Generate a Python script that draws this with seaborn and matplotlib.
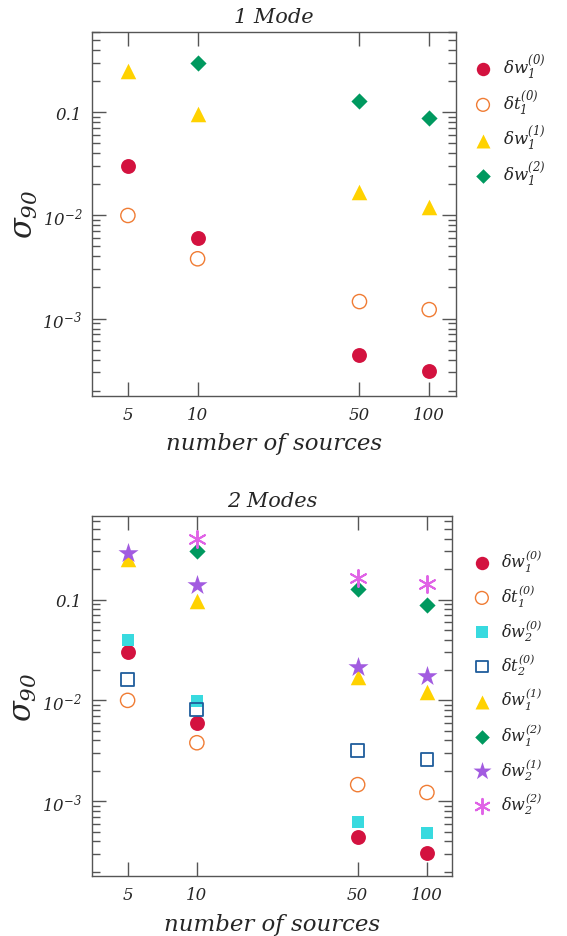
import numpy as np
import pandas as pd
import matplotlib
matplotlib.use("Agg")
import matplotlib.pyplot as plt
import matplotlib.ticker as mticker
import seaborn as sns

# ---------------- data ----------------
n_sources = [5, 10, 50, 100]
n_sources_no5 = [10, 50, 100]

dw1_0 = [0.0305, 0.0060, 4.4e-4, 3.1e-4]
dt1_0 = [0.0100, 0.0038, 1.46e-3, 1.22e-3]
dw1_1 = [0.255, 0.096, 0.0170, 0.0120]
dw1_2 = [0.305, 0.128, 0.089]          # at 10, 50, 100

dw2_0 = [0.040, 0.0098, 6.2e-4, 4.8e-4]
dt2_0 = [0.016, 0.0081, 3.2e-3, 2.6e-3]
dw2_1 = [0.29, 0.14, 0.0216, 0.0176]
dw2_2 = [0.394, 0.164, 0.143]          # at 10, 50, 100

xticks = [5, 10, 50, 100]
xtick_labels = ["5", "10", "50", "100"]
yticks = [1e-3, 1e-2, 1e-1]
ytick_labels = [r"$10^{-3}$", r"$10^{-2}$", "0.1"]

titles = ["1 Mode", "2 Modes"]
xlabel = "number of sources"
ylabel = r"$\sigma_{90}$"

# ---------------- style ----------------
sns.set_style("ticks")
plt.rcParams["font.family"] = ["DejaVu Serif"]
plt.rcParams["font.style"] = "italic"
plt.rcParams["mathtext.fontset"] = "custom"
plt.rcParams["mathtext.rm"] = "DejaVu Serif:italic"
plt.rcParams["mathtext.it"] = "DejaVu Serif:italic"
plt.rcParams["mathtext.default"] = "it"

RED = "#D3123F"
ORANGE = "#F07C34"
GOLD = "#FFD200"
GREEN = "#00995F"
CYAN = "#38DADF"
BLUE = "#1F5D9C"
PURPLE = "#A25BE0"
PINK = "#E062E6"

fig = plt.figure(figsize=(5.67, 9.37), dpi=100)
ax1 = fig.add_axes([0.1623, 0.5763, 0.642, 0.389])
ax2 = fig.add_axes([0.1617, 0.0637, 0.636, 0.385])


def filled(ax, x, y, marker, color, s, label):
    sns.scatterplot(x=x, y=y, ax=ax, marker=marker, s=s, color=color,
                    linewidth=0, label=label, zorder=3)


def hollow(ax, x, y, marker, color, s, label, lw=1.0):
    sns.scatterplot(x=x, y=y, ax=ax, marker=marker, s=s, facecolors="none",
                    edgecolor=color, linewidth=lw, label=label, zorder=3)


# top panel
filled(ax1, n_sources, dw1_0, "o", RED, 115, r"$\delta w_1^{(0)}$")
hollow(ax1, n_sources, dt1_0, "o", ORANGE, 105, r"$\delta t_1^{(0)}$")
filled(ax1, n_sources, dw1_1, "^", GOLD, 125, r"$\delta w_1^{(1)}$")
filled(ax1, n_sources_no5, dw1_2, "D", GREEN, 68, r"$\delta w_1^{(2)}$")

# bottom panel
filled(ax2, n_sources, dw1_0, "o", RED, 115, r"$\delta w_1^{(0)}$")
hollow(ax2, n_sources, dt1_0, "o", ORANGE, 105, r"$\delta t_1^{(0)}$")
filled(ax2, n_sources, dw2_0, "s", CYAN, 80, r"$\delta w_2^{(0)}$")
hollow(ax2, n_sources, dt2_0, "s", BLUE, 85, r"$\delta t_2^{(0)}$", lw=1.3)
filled(ax2, n_sources, dw1_1, "^", GOLD, 125, r"$\delta w_1^{(1)}$")
filled(ax2, n_sources_no5, dw1_2, "D", GREEN, 68, r"$\delta w_1^{(2)}$")
filled(ax2, n_sources, dw2_1, "*", PURPLE, 230, r"$\delta w_2^{(1)}$")
sns.scatterplot(x=n_sources_no5, y=dw2_2, ax=ax2, marker=(6, 2, 0), s=150,
                color=PINK, linewidth=1.4, edgecolor=PINK,
                label=r"$\delta w_2^{(2)}$", zorder=3)

limits = [((3.5, 130.6), (1.77e-4, 0.61)), ((3.49, 128.9), (1.8e-4, 0.68))]

for ax, title, (xl, yl) in zip([ax1, ax2], titles, limits):
    ax.set_xscale("log")
    ax.set_yscale("log")
    ax.set_xlim(*xl)
    ax.set_ylim(*yl)
    ax.xaxis.set_major_locator(mticker.FixedLocator(xticks))
    ax.xaxis.set_major_formatter(mticker.FixedFormatter(xtick_labels))
    ax.xaxis.set_minor_locator(mticker.NullLocator())
    ax.yaxis.set_major_locator(mticker.FixedLocator(yticks))
    ax.yaxis.set_major_formatter(mticker.FixedFormatter(ytick_labels))
    ax.yaxis.set_minor_locator(mticker.LogLocator(base=10, subs=np.arange(2, 10)))
    ax.yaxis.set_minor_formatter(mticker.NullFormatter())
    ax.tick_params(which="both", direction="in", top=True, right=True,
                   color="#555555", labelsize=12, pad=7)
    ax.tick_params(which="major", length=10, width=1.0)
    ax.tick_params(which="minor", length=6, width=1.0)
    for sp in ax.spines.values():
        sp.set_color("#555555")
        sp.set_linewidth(1.0)
    ax.set_title(title, fontsize=15, style="italic", pad=7)
    ax.set_xlabel(xlabel, fontsize=16.5, style="italic", labelpad=7)
    ax.set_ylabel(ylabel, fontsize=22, labelpad=2)

ax1.legend(loc="upper left", bbox_to_anchor=(1.01, 0.96), frameon=False,
           fontsize=12, labelspacing=0.45, handletextpad=0.2, borderaxespad=0,
           markerscale=0.9)
ax2.legend(loc="upper left", bbox_to_anchor=(1.02, 0.93), frameon=False,
           fontsize=11.5, labelspacing=0.55, handletextpad=0.2, borderaxespad=0,
           markerscale=0.9)

fig.savefig("out.png", dpi=100)
